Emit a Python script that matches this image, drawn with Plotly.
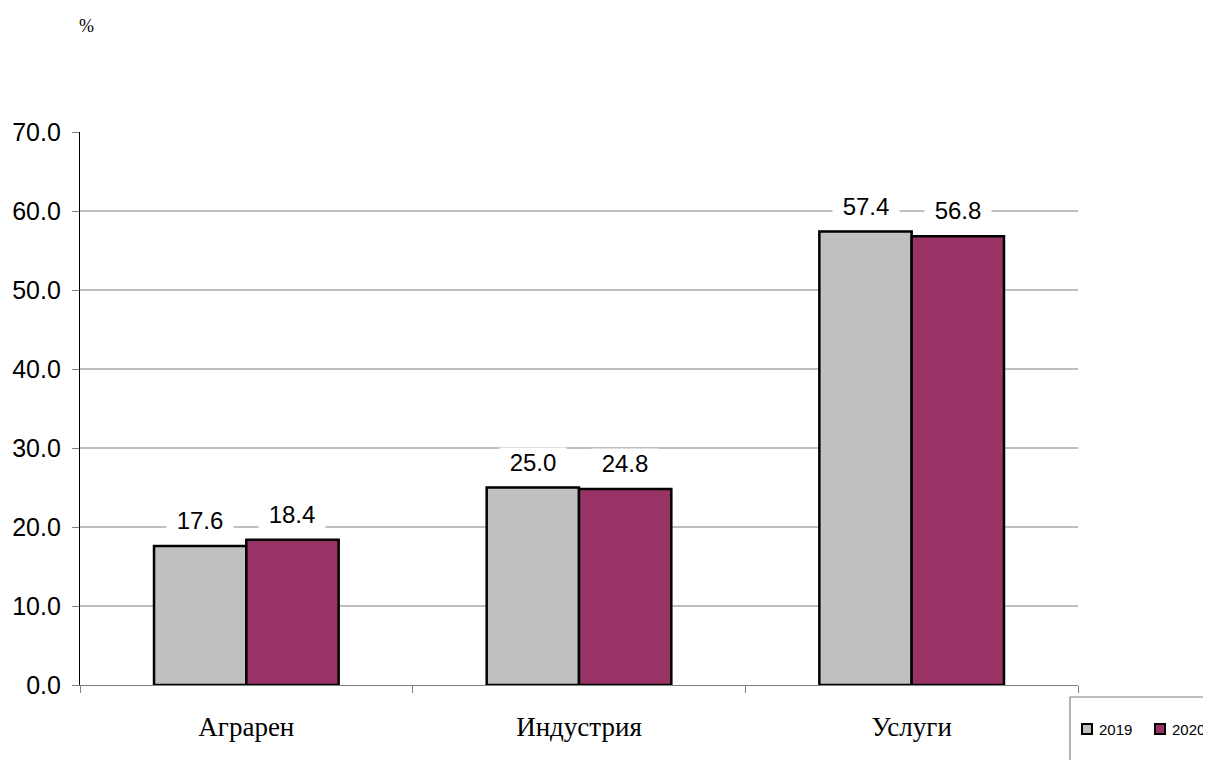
import plotly.graph_objects as go

categories = ["Аграрен", "Индустрия", "Услуги"]
years = ["2019", "2020"]
values_2019 = [17.6, 25.0, 57.4]
values_2020 = [18.4, 24.8, 56.8]
y_ticks = [0, 10, 20, 30, 40, 50, 60, 70]
grid_values = [10, 20, 30, 40, 50, 60]
colors = {"2019": "#C0C0C0", "2020": "#993366"}

series = {"2019": values_2019, "2020": values_2020}

fig = go.Figure()
for yr in years:
    fig.add_trace(go.Bar(
        x=categories, y=series[yr], name=yr,
        marker=dict(color=colors[yr], line=dict(color="black", width=2.5)),
        showlegend=False,
    ))

annotations = []
for i, yr in enumerate(years):
    shift = -46 if i == 0 else 46
    for c, v in zip(categories, series[yr]):
        annotations.append(dict(
            x=c, y=v, xref="x", yref="y", text=f"{v:.1f}",
            showarrow=False, xshift=shift, yanchor="bottom", yshift=10,
            font=dict(family="Liberation Sans, Arial", size=24, color="black"),
            bgcolor="white", borderpad=1, width=64,
        ))
annotations.append(dict(
    x=0, y=1, xref="paper", yref="paper", xanchor="left", yanchor="top",
    xshift=-3, yshift=118, text="%", showarrow=False,
    font=dict(family="Liberation Serif, Times New Roman", size=18, color="black"),
))

shapes = [dict(type="line", xref="paper", x0=0, x1=1, yref="y", y0=g, y1=g,
               line=dict(color="#808080", width=1.2), layer="below")
          for g in grid_values]

# legend drawn by hand: frame runs past the page edge, as in the reference
shapes.append(dict(type="rect", xref="paper", yref="paper",
                   xsizemode="pixel", ysizemode="pixel", xanchor=1, yanchor=0,
                   x0=-8, x1=300, y0=-12, y1=-300,
                   line=dict(color="#808080", width=1.2), fillcolor="rgba(0,0,0,0)"))
legend_offsets = {"2019": 4, "2020": 77}
for yr in years:
    off = legend_offsets[yr]
    shapes.append(dict(type="rect", xref="paper", yref="paper",
                       xsizemode="pixel", ysizemode="pixel", xanchor=1, yanchor=0,
                       x0=off, x1=off + 10, y0=-39, y1=-49,
                       line=dict(color="black", width=2), fillcolor=colors[yr]))
    annotations.append(dict(
        x=1, y=0, xref="paper", yref="paper", xanchor="left", yanchor="middle",
        xshift=off + 15, yshift=-44, text=yr, showarrow=False,
        font=dict(family="Liberation Sans, Arial", size=15, color="black"),
    ))

fig.update_layout(
    width=1211, height=760,
    margin=dict(l=72, r=141, t=124, b=83),
    paper_bgcolor="white", plot_bgcolor="white",
    barmode="group", bargap=0.445, bargroupgap=0,
    annotations=annotations, shapes=shapes,
    showlegend=False,
)
fig.update_xaxes(
    type="category", showgrid=False, showline=True, linecolor="#808080", linewidth=1.2,
    ticks="outside", tickson="boundaries", ticklen=7, tickcolor="#808080",
    tickfont=dict(family="Liberation Serif, Times New Roman", size=27, color="black"),
    ticklabelstandoff=17, automargin=False,
)
fig.update_yaxes(
    range=[0, 70], tickvals=y_ticks, tickformat=".1f", showgrid=False,
    showline=True, linecolor="black", linewidth=1.2, zeroline=False,
    ticks="outside", ticklen=7, tickcolor="#808080", ticklabelstandoff=6,
    tickfont=dict(family="Liberation Sans, Arial", size=25, color="black"),
    automargin=False,
)

fig.write_html("out.html")
